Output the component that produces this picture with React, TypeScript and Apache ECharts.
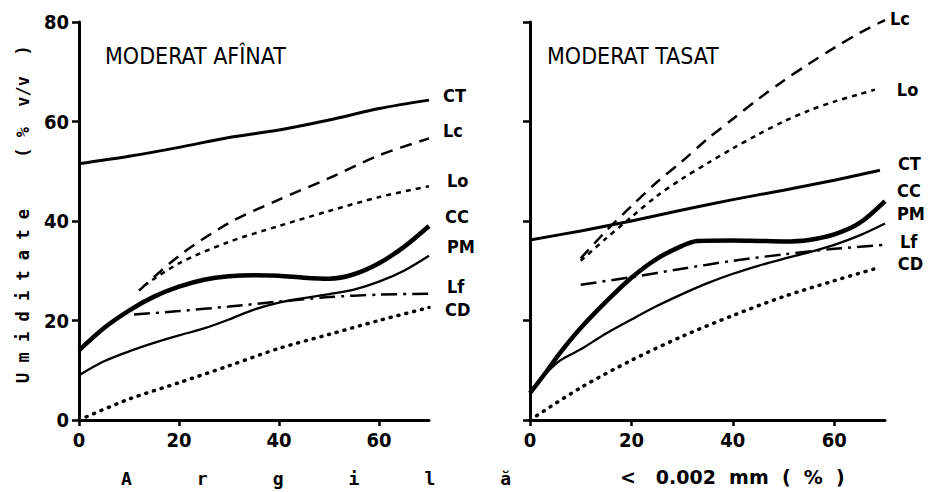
import React, { useEffect, useRef } from "react";
import * as echarts from "echarts";

// ---------- data ----------
const X_TICKS = [0, 20, 40, 60];
const Y_TICKS = [0, 20, 40, 60, 80];

const TITLE_A = "MODERAT AFÎNAT";
const TITLE_B = "MODERAT TASAT";
const Y_TITLE = "U m i d i t a t e     ( %  v/v  )";
const X_TITLE_1 = "A      r      g      i      l      ă";
const X_TITLE_2 = "<   0.002  mm  (  %  )";

// Panel A : MODERAT AFÎNAT
const X_CT_A = [0, 10, 20, 30, 40, 50, 60, 70];
const CT_A = [51.5, 53, 54.8, 56.8, 58.3, 60.3, 62.6, 64.3];
const X_LC_A = [12, 20, 30, 40, 50, 60, 70];
const LC_A = [26, 33, 39.6, 44.3, 48.6, 53.2, 56.6];
const X_LO_A = [13, 20, 30, 40, 50, 60, 70];
const LO_A = [27, 31.5, 35.8, 39, 42, 44.8, 47];
const X_CC_A = [0, 5, 10, 15, 20, 25, 30, 35, 40, 45, 50, 55, 60, 65, 70];
const CC_A = [14, 18.5, 22, 24.8, 26.8, 28.2, 28.9, 29.1, 29, 28.6, 28.4, 29.3, 31.5, 34.8, 39];
const X_PM_A = [0, 5, 10, 15, 20, 25, 30, 35, 40, 45, 50, 55, 60, 65, 70];
const PM_A = [9, 11.8, 13.8, 15.5, 17, 18.4, 20.2, 22.2, 23.6, 24.5, 25.3, 26.2, 27.8, 30, 33];
const X_LF_A = [11, 20, 30, 40, 50, 60, 70];
const LF_A = [21.2, 21.9, 22.8, 23.8, 24.7, 25.2, 25.4];
const X_CD_A = [0, 10, 20, 30, 40, 50, 60, 70];
const CD_A = [0, 4.2, 7.5, 10.9, 14.4, 17.2, 20, 22.6];

// Panel B : MODERAT TASAT
const X_CT_B = [0, 10, 20, 30, 40, 50, 60, 69];
const CT_B = [36.2, 38, 40, 42.2, 44.3, 46.2, 48.2, 50.2];
const X_LC_B = [10, 15, 20, 25, 30, 35, 40, 45, 50, 55, 60, 65, 70];
const LC_B = [32.5, 38, 43, 47.8, 52, 56.5, 60.5, 64.5, 68.2, 71.6, 74.8, 77.8, 80.4];
const X_LO_B = [10, 15, 20, 25, 30, 35, 40, 45, 50, 55, 60, 65, 68];
const LO_B = [32, 36.5, 40.8, 45, 48.5, 51.6, 54.6, 57.4, 60, 62.2, 64, 65.5, 66.4];
const X_CC_B = [0, 3, 6, 10, 15, 20, 25, 30, 33, 40, 45, 50, 55, 60, 65, 70];
const CC_B = [5.4, 9.4, 13.6, 18.5, 23.8, 28.6, 32.4, 35, 36, 36.1, 36, 35.9, 36.2, 37.3, 39.6, 44];
const X_PM_B = [0, 3, 6, 10, 15, 20, 25, 30, 35, 40, 45, 50, 55, 60, 65, 70];
const PM_B = [5.4, 9.2, 12, 14.2, 17.4, 20.2, 22.9, 25.3, 27.5, 29.4, 31, 32.4, 33.7, 35.2, 37.1, 39.5];
const X_LF_B = [10, 20, 30, 40, 50, 60, 70];
const LF_B = [27.2, 28.7, 30.4, 32, 33.3, 34.4, 35.2];
const X_CD_B = [0, 10, 20, 30, 40, 50, 60, 68];
const CD_B = [0, 6.5, 12, 16.8, 21, 24.8, 28, 30.4];

// ---------- styling ----------
const INK = "#000";
const LABEL_FONT = "'DejaVu Sans Condensed', 'DejaVu Sans', sans-serif";
const BOLD_FONT = "'DejaVu Sans', sans-serif";
const MONO = "'DejaVu Sans Mono', monospace";

const STYLES: Record<string, any> = {
  CT: { type: "solid", width: 3 },
  Lc: { type: [12, 8], width: 2.5 },
  Lo: { type: [5, 5], width: 2.5 },
  CC: { type: "solid", width: 4.5 },
  PM: { type: "solid", width: 2.3 },
  Lf: { type: [16, 6, 3, 6], width: 2.5 },
  CD: { type: [1, 7], width: 3.5, cap: "round" },
};

function pairs(xs: number[], ys: number[]) {
  return xs.map((x, i) => [x, ys[i]]);
}

function mk(name: string, xs: number[], ys: number[], idx: number, offset: number[]) {
  return {
    type: "line",
    name,
    xAxisIndex: idx,
    yAxisIndex: idx,
    data: pairs(xs, ys),
    smooth: 0.3,
    showSymbol: false,
    symbol: "none",
    clip: false,
    silent: true,
    lineStyle: { color: INK, ...STYLES[name] },
    endLabel: {
      show: true,
      formatter: name,
      distance: 0,
      offset,
      color: INK,
      fontFamily: LABEL_FONT,
      fontWeight: "bold",
      fontSize: 18,
    },
  };
}

function axisX(idx: number) {
  return {
    type: "value",
    gridIndex: idx,
    min: 0,
    max: 70,
    interval: 20,
    splitLine: { show: false },
    axisLine: { onZero: false, lineStyle: { color: INK, width: 3 } },
    axisTick: { customValues: X_TICKS, length: 6, lineStyle: { color: INK, width: 2.5 } },
    axisLabel: {
      customValues: X_TICKS,
      color: INK,
      fontFamily: LABEL_FONT,
      fontWeight: "bold",
      fontSize: 20,
      margin: 10,
    },
  };
}

function axisY(idx: number, labels: boolean) {
  return {
    type: "value",
    gridIndex: idx,
    min: 0,
    max: 80,
    interval: 20,
    splitLine: { show: false },
    axisLine: { onZero: false, lineStyle: { color: INK, width: 3 } },
    axisTick: { customValues: Y_TICKS, length: 7, lineStyle: { color: INK, width: 2.5 } },
    axisLabel: {
      show: labels,
      customValues: Y_TICKS,
      color: INK,
      fontFamily: LABEL_FONT,
      fontWeight: "bold",
      fontSize: 20,
      margin: 10,
    },
  };
}

export default function App() {
  const ref = useRef<HTMLDivElement>(null);

  useEffect(() => {
    if (!ref.current) return;
    const chart = echarts.init(ref.current, null, { renderer: "svg" });
    chart.setOption({
      animation: false,
      backgroundColor: "#fff",
      grid: [
        { left: 79, top: 22, width: 350, height: 398 },
        { left: 530, top: 22, width: 355, height: 398 },
      ],
      xAxis: [axisX(0), axisX(1)],
      yAxis: [axisY(0, true), axisY(1, false)],
      series: [
        mk("CT", X_CT_A, CT_A, 0, [14, -5]),
        mk("Lc", X_LC_A, LC_A, 0, [14, -8]),
        mk("Lo", X_LO_A, LO_A, 0, [18, -6]),
        mk("CC", X_CC_A, CC_A, 0, [16, -9]),
        mk("PM", X_PM_A, PM_A, 0, [18, -9]),
        mk("Lf", X_LF_A, LF_A, 0, [18, -7]),
        mk("CD", X_CD_A, CD_A, 0, [16, 2]),
        mk("Lc", X_LC_B, LC_B, 1, [5, -2]),
        mk("Lo", X_LO_B, LO_B, 1, [22, 0]),
        mk("CT", X_CT_B, CT_B, 1, [18, -7]),
        mk("CC", X_CC_B, CC_B, 1, [12, -11]),
        mk("PM", X_PM_B, PM_B, 1, [12, -10]),
        mk("Lf", X_LF_B, LF_B, 1, [15, -3]),
        mk("CD", X_CD_B, CD_B, 1, [23, -5]),
      ],
      graphic: [
        {
          type: "text",
          left: 105,
          top: 44,
          style: { text: TITLE_A, fill: INK, fontFamily: LABEL_FONT, fontSize: 23 },
        },
        {
          type: "text",
          left: 547,
          top: 44,
          style: { text: TITLE_B, fill: INK, fontFamily: LABEL_FONT, fontSize: 23 },
        },
        {
          type: "text",
          x: 23,
          y: 383,
          rotation: Math.PI / 2,
          style: {
            text: Y_TITLE,
            fill: INK,
            fontFamily: MONO,
            fontWeight: "bold",
            fontSize: 17,
            align: "left",
            verticalAlign: "middle",
          },
        },
        {
          type: "text",
          x: 121,
          y: 478,
          style: {
            text: X_TITLE_1,
            fill: INK,
            fontFamily: MONO,
            fontWeight: "bold",
            fontSize: 18,
            align: "left",
            verticalAlign: "middle",
          },
        },
        {
          type: "text",
          x: 620,
          y: 477,
          style: {
            text: X_TITLE_2,
            fill: INK,
            fontFamily: BOLD_FONT,
            fontWeight: "bold",
            fontSize: 19,
            align: "left",
            verticalAlign: "middle",
          },
        },
      ],
    });
    return () => chart.dispose();
  }, []);

  return (
    <div
      ref={ref}
      style={{ position: "fixed", left: 0, top: 0, width: 928, height: 492, background: "#fff" }}
    />
  );
}
